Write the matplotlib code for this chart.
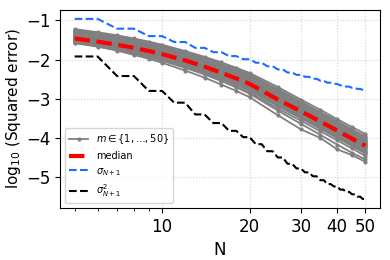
import numpy as np
import matplotlib
matplotlib.use("Agg")
import matplotlib.pyplot as plt

# N values where each m-curve was evaluated
N_m = [5, 6, 7, 8, 9, 10, 12, 14, 16, 18, 20, 25, 30, 35, 40, 45, 50]

# log10 squared error for individual m curves
curves_m = [
    [-1.22, -1.30, -1.38, -1.46, -1.54, -1.62, -1.78, -1.93, -2.07, -2.21, -2.34, -2.70, -3.02, -3.28, -3.52, -3.72, -3.90],
    [-1.25, -1.33, -1.41, -1.49, -1.57, -1.65, -1.81, -1.96, -2.11, -2.25, -2.38, -2.75, -3.07, -3.34, -3.57, -3.78, -3.96],
    [-1.28, -1.36, -1.44, -1.52, -1.60, -1.68, -1.84, -2.00, -2.15, -2.29, -2.43, -2.81, -3.12, -3.39, -3.62, -3.84, -4.01],
    [-1.31, -1.39, -1.47, -1.55, -1.63, -1.71, -1.87, -2.03, -2.18, -2.33, -2.47, -2.85, -3.16, -3.43, -3.66, -3.88, -4.05],
    [-1.34, -1.42, -1.50, -1.58, -1.66, -1.74, -1.90, -2.06, -2.22, -2.36, -2.50, -2.89, -3.20, -3.47, -3.70, -3.91, -4.09],
    [-1.37, -1.45, -1.53, -1.61, -1.69, -1.77, -1.93, -2.09, -2.25, -2.39, -2.53, -2.93, -3.24, -3.50, -3.73, -3.94, -4.12],
    [-1.40, -1.48, -1.56, -1.64, -1.72, -1.80, -1.96, -2.12, -2.28, -2.42, -2.56, -2.96, -3.27, -3.53, -3.76, -3.97, -4.15],
    [-1.43, -1.51, -1.59, -1.67, -1.75, -1.83, -1.99, -2.15, -2.31, -2.45, -2.59, -2.99, -3.29, -3.56, -3.79, -4.00, -4.18],
    [-1.45, -1.54, -1.62, -1.70, -1.78, -1.86, -2.02, -2.18, -2.34, -2.48, -2.62, -3.02, -3.32, -3.58, -3.81, -4.02, -4.20],
    [-1.48, -1.56, -1.65, -1.73, -1.81, -1.89, -2.05, -2.21, -2.37, -2.51, -2.65, -3.05, -3.35, -3.61, -3.84, -4.05, -4.23],
    [-1.50, -1.59, -1.67, -1.76, -1.84, -1.92, -2.08, -2.24, -2.40, -2.54, -2.68, -3.08, -3.38, -3.64, -3.87, -4.08, -4.27],
    [-1.52, -1.61, -1.70, -1.78, -1.87, -1.95, -2.11, -2.27, -2.43, -2.57, -2.71, -3.11, -3.42, -3.68, -3.91, -4.12, -4.31],
    [-1.55, -1.64, -1.72, -1.81, -1.89, -1.97, -2.14, -2.30, -2.46, -2.61, -2.75, -3.15, -3.46, -3.72, -3.95, -4.16, -4.35],
    [-1.57, -1.66, -1.75, -1.83, -1.92, -2.00, -2.17, -2.33, -2.50, -2.65, -2.79, -3.19, -3.50, -3.77, -4.00, -4.21, -4.40],
    [-1.58, -1.67, -1.76, -1.85, -1.94, -2.03, -2.21, -2.38, -2.55, -2.70, -2.84, -3.25, -3.56, -3.83, -4.06, -4.27, -4.46],
    [-1.50, -1.60, -1.70, -1.80, -1.90, -1.99, -2.18, -2.36, -2.54, -2.71, -2.87, -3.30, -3.64, -3.92, -4.17, -4.38, -4.55],
    [-1.55, -1.66, -1.77, -1.88, -1.98, -2.08, -2.28, -2.46, -2.64, -2.80, -2.96, -3.42, -3.78, -4.00, -4.29, -4.44, -4.61],
    [-1.42, -1.52, -1.62, -1.72, -1.82, -1.92, -2.12, -2.30, -2.48, -2.64, -2.78, -3.18, -3.48, -3.74, -3.98, -4.18, -4.38],
    [-1.26, -1.35, -1.43, -1.51, -1.59, -1.67, -1.83, -1.98, -2.13, -2.27, -2.40, -2.78, -3.10, -3.37, -3.60, -3.81, -3.99],
    [-1.33, -1.41, -1.49, -1.57, -1.65, -1.73, -1.89, -2.05, -2.20, -2.35, -2.49, -2.88, -3.19, -3.45, -3.68, -3.90, -4.08],
    [-1.39, -1.47, -1.55, -1.63, -1.71, -1.79, -1.95, -2.11, -2.27, -2.41, -2.55, -2.95, -3.26, -3.52, -3.75, -3.96, -4.14],
    [-1.44, -1.52, -1.60, -1.68, -1.76, -1.84, -2.00, -2.16, -2.32, -2.47, -2.61, -3.01, -3.31, -3.57, -3.80, -4.01, -4.19],
    [-1.49, -1.57, -1.66, -1.74, -1.82, -1.90, -2.07, -2.23, -2.39, -2.53, -2.67, -3.07, -3.37, -3.63, -3.86, -4.07, -4.25],
    [-1.53, -1.62, -1.71, -1.79, -1.88, -1.96, -2.13, -2.29, -2.45, -2.60, -2.74, -3.14, -3.45, -3.71, -3.94, -4.15, -4.34],
]

# median over m
median = [-1.46, -1.54, -1.62, -1.70, -1.78, -1.86, -2.02, -2.18, -2.34, -2.48, -2.62,
          -3.02, -3.32, -3.58, -3.81, -4.02, -4.20]

# sigma_{N+1} and its square, N = 5..50
N_all = list(range(5, 51))
sigma = [-0.96, -0.96, -1.21, -1.21, -1.40, -1.40, -1.55, -1.55, -1.70, -1.70,
         -1.81, -1.81, -1.91, -1.91, -1.99, -1.99, -2.08, -2.08, -2.17, -2.17,
         -2.25, -2.25, -2.33, -2.33, -2.39, -2.39, -2.44, -2.44, -2.49, -2.49,
         -2.54, -2.54, -2.59, -2.59, -2.62, -2.62, -2.66, -2.66, -2.69, -2.69,
         -2.72, -2.72, -2.75, -2.75, -2.77, -2.77]
sigma_sq = [-1.92, -1.92, -2.42, -2.42, -2.80, -2.80, -3.10, -3.10, -3.40, -3.40,
            -3.62, -3.62, -3.82, -3.82, -3.98, -3.98, -4.16, -4.16, -4.34, -4.34,
            -4.50, -4.50, -4.66, -4.66, -4.78, -4.78, -4.88, -4.88, -4.98, -4.98,
            -5.08, -5.08, -5.18, -5.18, -5.24, -5.24, -5.32, -5.32, -5.38, -5.38,
            -5.44, -5.44, -5.50, -5.50, -5.56, -5.56]

y_ticks = [-1, -2, -3, -4, -5]
x_ticks = [10, 20, 30, 40, 50]

fig = plt.figure(figsize=(3.9, 2.6), dpi=100)
ax = fig.add_axes([0.154, 0.2, 0.82, 0.762])

for i, c in enumerate(curves_m):
    ax.plot(N_m, c, color="grey", marker="o", markersize=2, linewidth=1.3,
            label=r"$m \in \{1,\ldots,50\}$" if i == 0 else None)
ax.plot(N_m, median, color="red", linestyle="--", linewidth=3, label="median")
ax.plot(N_all, sigma, color="#1a6dff", linestyle="--", linewidth=1.5, label=r"$\sigma_{N+1}$")
ax.plot(N_all, sigma_sq, color="black", linestyle="--", linewidth=1.5, label=r"$\sigma_{N+1}^2$")

ax.set_xscale("log")
ax.set_xticks(x_ticks)
ax.set_xticklabels([str(t) for t in x_ticks])
ax.set_yticks(y_ticks)
ax.tick_params(axis="both", labelsize=12)
ax.grid(True, linestyle=":", color="lightgrey", linewidth=0.8)
ax.set_xlabel("N", fontsize=12)
ax.set_ylabel(r"log$_{10}$ (Squared error)", fontsize=11, labelpad=2)
ax.legend(loc="lower left", fontsize=7)

fig.savefig("out.png", dpi=100)
